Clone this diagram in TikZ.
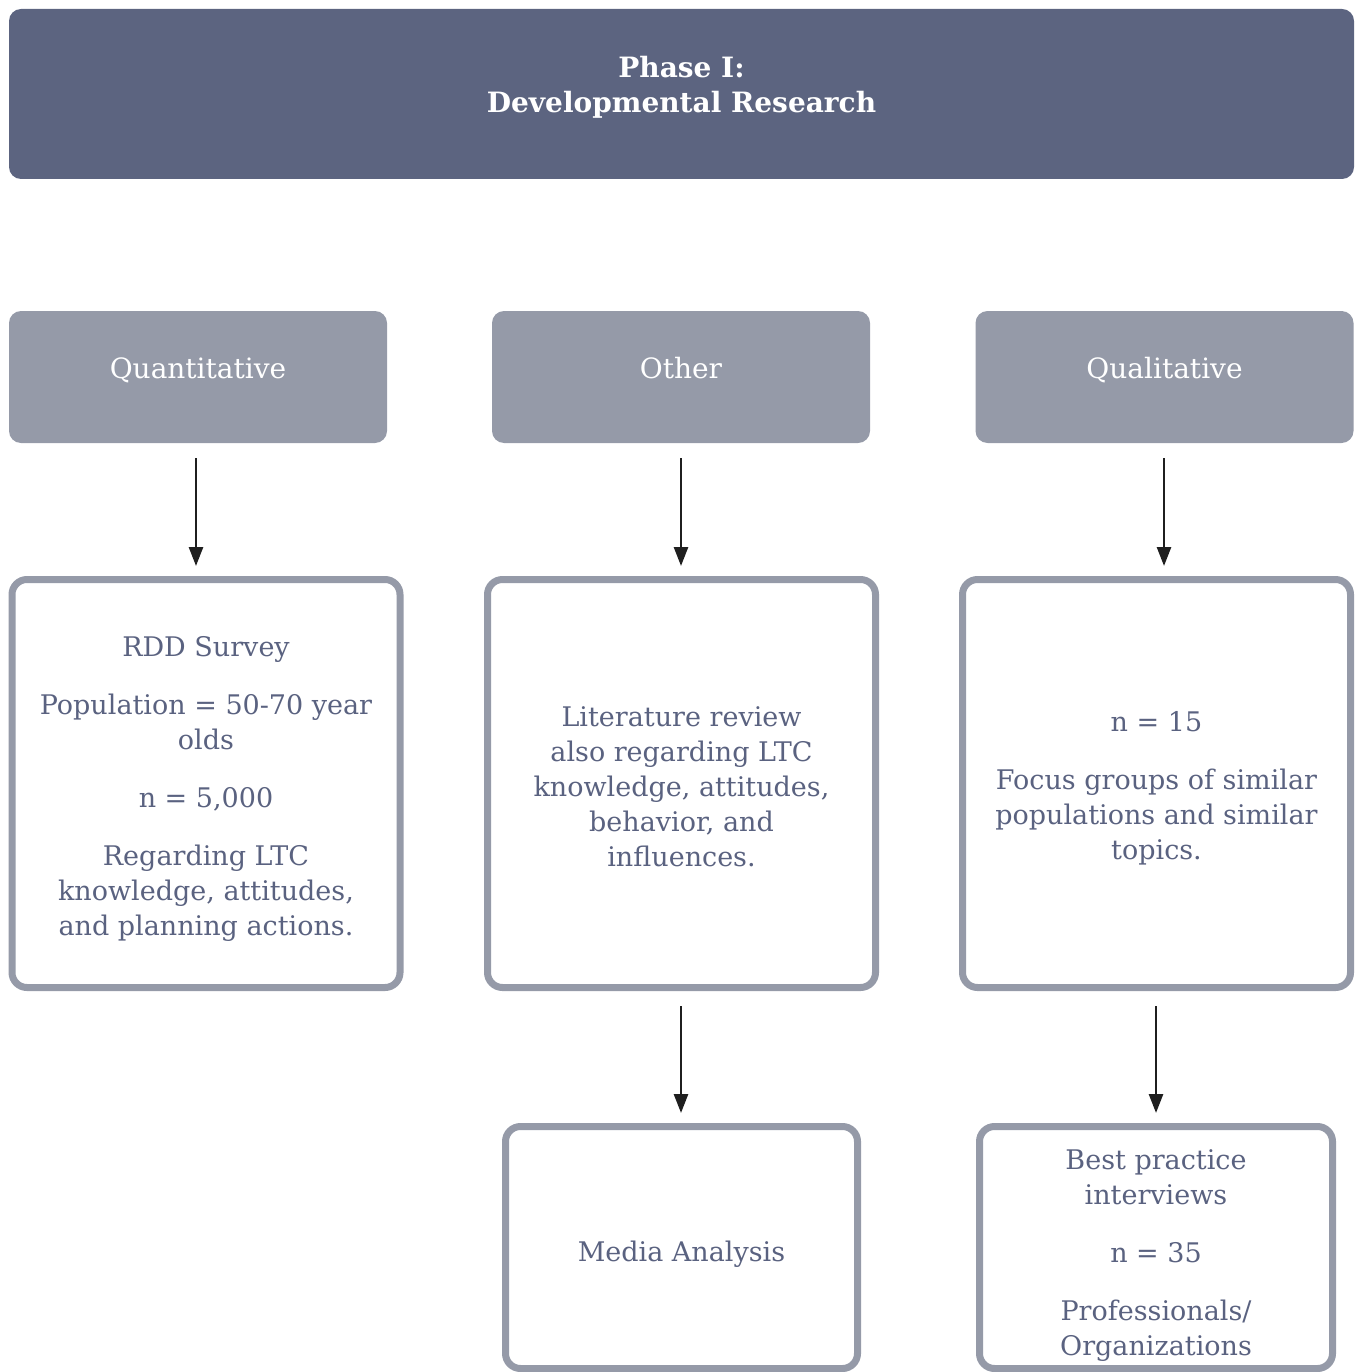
\documentclass[tikz,border=0pt]{standalone}
\usepackage{fontspec}
\setmainfont{DejaVu Serif}
\usetikzlibrary{arrows.meta}
\definecolor{hdr}{HTML}{5C6480}
\definecolor{midfill}{HTML}{959AA8}
\definecolor{txt}{HTML}{5A6280}
\begin{document}
\begin{tikzpicture}[x=1pt,y=-1pt,
  header/.style={fill=hdr, draw=none, rounded corners=12pt, text=white,
    font=\fontsize{28}{35}\selectfont\bfseries, align=center,
    minimum width=1345pt, minimum height=170pt, inner sep=0pt,
    text height=87pt, text depth=50pt},
  cat/.style={fill=midfill, draw=none, rounded corners=12pt, text=white,
    font=\fontsize{28}{35}\selectfont, align=center,
    minimum width=378pt, minimum height=132pt, inner sep=0pt,
    text height=39pt, text depth=36pt},
  detail/.style={draw=midfill, line width=7pt, fill=white, rounded corners=15pt,
    inner sep=0pt},
  dtext/.style={text=txt, font=\fontsize{27}{35}\selectfont, align=center, inner sep=0pt},
  arr/.style={draw=black!88, line width=2.7pt, -{Triangle[width=14pt,length=19pt]}}
]
\useasboundingbox (0,0) rectangle (1356,1372);

\node[header] (ph) at (681.5,94) {Phase I:\\Developmental Research};

\node[cat] (qn) at (198,377) {Quantitative};
\node[cat] (ot) at (681,377) {Other};
\node[cat] (ql) at (1164.5,377) {Qualitative};

\node[detail, minimum width=388pt, minimum height=408pt] (rdd) at (206,783.5) {};
\node[detail, minimum width=388pt, minimum height=408pt] (lit) at (681.5,783.5) {};
\node[detail, minimum width=388pt, minimum height=408pt] (foc) at (1156.5,783.5) {};
\node[detail, minimum width=352pt, minimum height=242pt] (med) at (681.5,1247.5) {};
\node[detail, minimum width=353pt, minimum height=242pt] (bpi) at (1156,1247.5) {};

\node[dtext] (rddt) at ([yshift=-5pt]rdd.center)
  {RDD Survey\\[23pt]Population = 50-70 year\\olds\\[23pt]n = 5,000\\[23pt]Regarding LTC\\knowledge, attitudes,\\and planning actions.};
\node[dtext] (litt) at ([yshift=-3pt]lit.center)
  {Literature review\\also regarding LTC\\knowledge, attitudes,\\behavior, and\\influences.};
\node[dtext] (foct) at ([yshift=-5pt]foc.center)
  {n = 15\\[23pt]Focus groups of similar\\populations and similar\\topics.};
\node[dtext] (medt) at ([yshift=-7pt]med.center) {Media Analysis};
\node[dtext] (bpit) at ([yshift=-8pt]bpi.center)
  {Best practice\\interviews\\[23pt]n = 35\\[23pt]Professionals/\\Organizations};

\coordinate (a1s) at (196,458);  \coordinate (a1e) at (196,566);
\coordinate (a2s) at (681,458);  \coordinate (a2e) at (681,566);
\coordinate (a3s) at (1164,458); \coordinate (a3e) at (1164,566);
\coordinate (a4s) at (681,1006); \coordinate (a4e) at (681,1113);
\coordinate (a5s) at (1156,1006); \coordinate (a5e) at (1156,1113);
\draw[arr] (a1s) -- (a1e);
\draw[arr] (a2s) -- (a2e);
\draw[arr] (a3s) -- (a3e);
\draw[arr] (a4s) -- (a4e);
\draw[arr] (a5s) -- (a5e);
\end{tikzpicture}
\end{document}
